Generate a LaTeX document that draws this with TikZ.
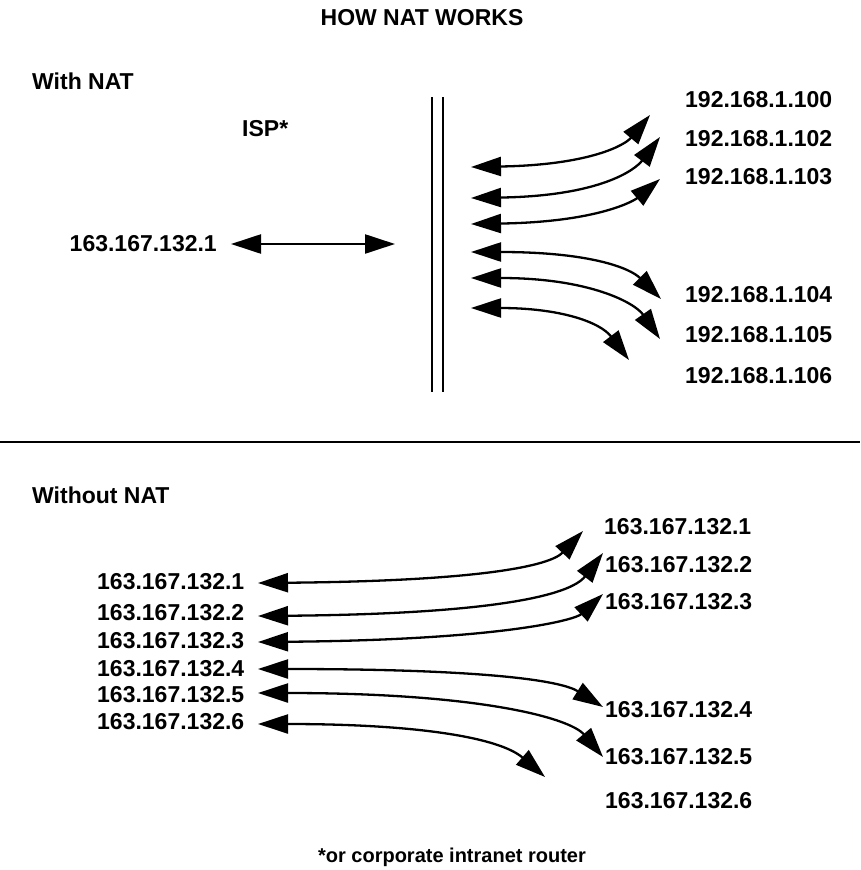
\documentclass[tikz,border=0pt]{standalone}
\usepackage{fontspec}
\setmainfont{Liberation Sans}
\usetikzlibrary{arrows.meta}
\begin{document}
\begin{tikzpicture}[x=1pt,y=-1pt,
  lbl/.style={font=\bfseries\fontsize{23}{26}\selectfont, inner sep=0pt, anchor=west},
  ttl/.style={font=\bfseries\fontsize{23}{26}\selectfont, inner sep=0pt},
  foot/.style={font=\bfseries\fontsize{20}{24}\selectfont, inner sep=0pt, anchor=base},
  dbl/.style={line width=2.3pt, {Triangle[length=30pt,width=19pt]}-{Triangle[length=30pt,width=19pt]}},
  rule/.style={line width=2.2pt}]
\useasboundingbox (0,0) rectangle (860,870);
\fill[white] (0,0) rectangle (860,870);

\node[ttl] (title) at (422,18) {HOW NAT WORKS};
\node[lbl] (with) at (32,81) {With NAT};
\node[lbl] (isp) at (242,129) {ISP*};

% router double line
\coordinate (r1t) at (432,97); \coordinate (r1b) at (432,392);
\coordinate (r2t) at (443,97); \coordinate (r2b) at (443,392);
\draw[line width=2pt] (r1t) -- (r1b);
\draw[line width=2pt] (r2t) -- (r2b);

% public address
\node[lbl, anchor=east] (pub) at (217,244) {163.167.132.1};
\coordinate (pubR) at (395,244);
\draw[dbl] ([xshift=14pt]pub.east) -- (pubR);

% private addresses
\node[lbl] (p100) at (685,100) {192.168.1.100};
\node[lbl] (p102) at (685,139) {192.168.1.102};
\node[lbl] (p103) at (685,177) {192.168.1.103};
\node[lbl] (p104) at (685,295) {192.168.1.104};
\node[lbl] (p105) at (685,335) {192.168.1.105};
\node[lbl] (p106) at (685,376) {192.168.1.106};

\coordinate (a1) at (471,167); \coordinate (b1) at (650,115);
\coordinate (a2) at (471,198); \coordinate (b2) at (660,137);
\coordinate (a3) at (471,224); \coordinate (b3) at (660,179);
\coordinate (a4) at (471,252); \coordinate (b4) at (661,299);
\coordinate (a5) at (471,278); \coordinate (b5) at (660,339);
\coordinate (a6) at (471,308); \coordinate (b6) at (629,360);
\draw[dbl] (a1) .. controls (590,165) and (625,145) .. (b1);
\draw[dbl] (a2) .. controls (600,196) and (635,170) .. (b2);
\draw[dbl] (a3) .. controls (600,222) and (635,200) .. (b3);
\draw[dbl] (a4) .. controls (590,252) and (630,268) .. (b4);
\draw[dbl] (a5) .. controls (590,278) and (635,303) .. (b5);
\draw[dbl] (a6) .. controls (560,308) and (600,322) .. (b6);

% separator
\coordinate (sepL) at (0,442); \coordinate (sepR) at (860,442);
\draw[rule] (sepL) -- (sepR);

\node[lbl] (without) at (32,495) {Without NAT};

\node[lbl] (l1) at (97,582) {163.167.132.1};
\node[lbl] (l2) at (97,613) {163.167.132.2};
\node[lbl] (l3) at (97,641) {163.167.132.3};
\node[lbl] (l4) at (97,669) {163.167.132.4};
\node[lbl] (l5) at (97,695) {163.167.132.5};
\node[lbl] (l6) at (97,722) {163.167.132.6};

\node[lbl] (r1) at (604,527) {163.167.132.1};
\node[lbl] (r2) at (605,565) {163.167.132.2};
\node[lbl] (r3) at (605,602) {163.167.132.3};
\node[lbl] (r4) at (605,710) {163.167.132.4};
\node[lbl] (r5) at (605,757) {163.167.132.5};
\node[lbl] (r6) at (605,801) {163.167.132.6};

\coordinate (c1) at (258,583); \coordinate (d1) at (583,531);
\coordinate (c2) at (258,616); \coordinate (d2) at (603,553);
\coordinate (c3) at (258,642); \coordinate (d3) at (603,594);
\coordinate (c4) at (258,669); \coordinate (d4) at (603,707);
\coordinate (c5) at (258,693); \coordinate (d5) at (603,757);
\coordinate (c6) at (258,724); \coordinate (d6) at (545,777);
\draw[dbl] (c1) .. controls (480,581) and (550,566) .. (d1);
\draw[dbl] (c2) .. controls (490,614) and (570,596) .. (d2);
\draw[dbl] (c3) .. controls (500,640) and (575,620) .. (d3);
\draw[dbl] (c4) .. controls (480,669) and (560,680) .. (d4);
\draw[dbl] (c5) .. controls (480,693) and (570,718) .. (d5);
\draw[dbl] (c6) .. controls (420,724) and (500,738) .. (d6);

\node[foot] (note) at (452,862) {*or corporate intranet router};
\end{tikzpicture}
\end{document}
